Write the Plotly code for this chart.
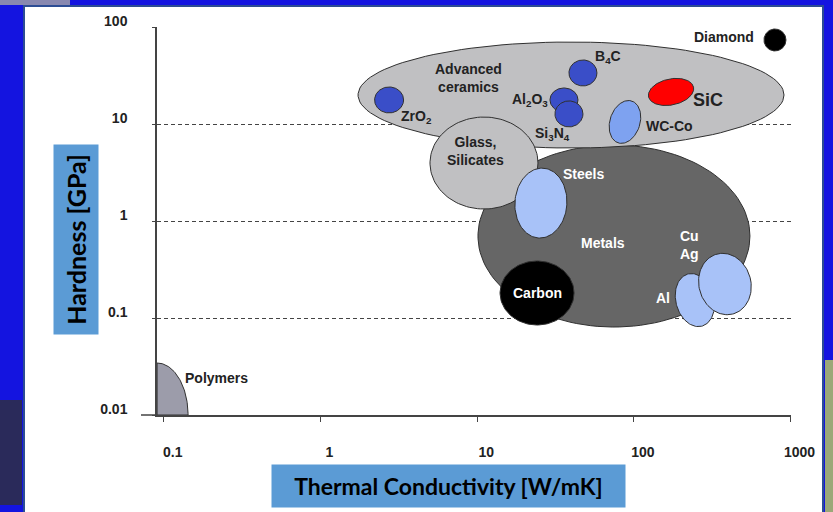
import numpy as np
import plotly.graph_objects as go

# ---------------- data ----------------
materials = ["Metals", "Advanced ceramics", "Glass, Silicates", "Steels", "Carbon",
             "Al", "Cu, Ag", "Al2O3", "Si3N4", "B4C", "ZrO2", "WC-Co", "SiC",
             "Diamond", "Polymers"]
conductivity = [74.6, 39.7, 11.05, 25.5, 24.1, 245, 381, 35.8, 38.5, 47.3, 2.74,
                87.7, 172.6, 795, 0.0906]           # W/mK (region centre)
hardness = [0.70, 19.9, 3.96, 1.53, 0.181, 0.153, 0.224, 17.7, 12.7, 33.6, 17.7,
            10.5, 21.4, 73.5, 0.01]                 # GPa (region centre)

x_ticks = [0.1, 1, 10, 100, 1000]
x_tick_labels = ["0.1", "1", "10", "100", "1000"]
y_ticks = [0.01, 0.1, 1, 10, 100]
y_tick_labels = ["0.01", "0.1", "1", "10", "100"]

# ---------------- styles ----------------
LIGHT_BLUE = "#a8c2f8"
DARK_BLUE = "#3a4ec8"
# semi-axes (px), rotation (deg, clockwise), fill colour
semi_x = [136, 213, 54, 26, 37, 19, 26, 14, 14, 14, 14.5, 15, 23, 11, 31]
semi_y = [91, 53, 46, 35, 32, 27, 31, 12, 13, 13, 13, 22, 13, 11, 52]
angle = [0, 0, 0, 4, 0, -15, -15, 0, 0, 0, 0, 18, -12, 0, 0]
fills = ["#666666", "#c0c0c2", "#c0c0c2", LIGHT_BLUE, "#000000", LIGHT_BLUE,
         LIGHT_BLUE, DARK_BLUE, DARK_BLUE, DARK_BLUE, DARK_BLUE, "#7ea2f0",
         "#ff0000", "#000000", "#9c9caa"]
labels = ["Metals", "Advanced<br>ceramics", "Glass,<br>Silicates", "Steels", "Carbon",
          "Al", "Cu<br>Ag", "Al<sub>2</sub>O<sub>3</sub>", "Si<sub>3</sub>N<sub>4</sub>",
          "B<sub>4</sub>C", "ZrO<sub>2</sub>", "WC-Co", "SiC", "Diamond", "Polymers"]
label_dx = [-11, -103, -8, 43, 0, -32, -35, -34, -16, 25, 27, 45, 37, -51, 59]
label_dy = [-7, 17, 12, 29, 0, 2, 39, 0, -20, 16, -17, -4, -8, 3, 37]
label_col = ["white", "#222", "#222", "white", "white", "white", "white", "#222",
             "#222", "#222", "#222", "#222", "#222", "#222", "#222"]
label_size = [14, 14, 14, 14, 14, 14, 14, 14, 14, 14, 14, 14, 18, 14, 14]

# ---------------- geometry of the plot ----------------
W, H = 833, 512
L, R, T, B = 157, 42, 27, 97
XR = [-1.0434, 3.0026]
YR = [-2, 2]
PW, PH = W - L - R, H - T - B
SX = PW / (XR[1] - XR[0])
SY = PH / (YR[1] - YR[0])


def px_x(px):
    return (px - L) / PW


def px_y(py):
    return (H - B - py) / PH


fig = go.Figure()

for i in range(len(materials)):
    if materials[i] == "Polymers":
        t = np.linspace(0, np.pi / 2, 60)
        dx = np.concatenate([[0], semi_x[i] * np.cos(t), [0]])
        dy = np.concatenate([[0], semi_y[i] * np.sin(t), [0]])
    else:
        t = np.linspace(0, 2 * np.pi, 120)
        dx = semi_x[i] * np.cos(t)
        dy = semi_y[i] * np.sin(t)
    th = np.radians(angle[i])
    rx = dx * np.cos(th) + dy * np.sin(th)
    ry = -dx * np.sin(th) + dy * np.cos(th)
    xs = 10 ** (np.log10(conductivity[i]) + rx / SX)
    ys = 10 ** (np.log10(hardness[i]) + ry / SY)
    fig.add_trace(go.Scatter(x=xs, y=ys, mode="lines", fill="toself",
                             fillcolor=fills[i], line=dict(color="#303030", width=1),
                             hoverinfo="skip", showlegend=False, name=materials[i]))

for i in range(len(materials)):
    fig.add_annotation(x=np.log10(conductivity[i]), y=np.log10(hardness[i]),
                       xref="x", yref="y", text=labels[i], showarrow=False,
                       xshift=label_dx[i], yshift=label_dy[i],
                       font=dict(family="Liberation Sans", size=label_size[i],
                                 color=label_col[i], weight="bold"))

# axis title boxes
fig.add_annotation(xref="paper", yref="paper", x=px_x(448), y=px_y(486),
                   xanchor="center", yanchor="middle", showarrow=False,
                   text="Thermal Conductivity [W/mK]", bgcolor="#5b9bd5",
                   width=351, height=40,
                   font=dict(family="Lato", size=23, color="black", weight="bold"))
fig.add_annotation(xref="paper", yref="paper", x=px_x(76), y=px_y(240),
                   xanchor="center", yanchor="middle", showarrow=False,
                   text="Hardness [GPa]", bgcolor="#5b9bd5", textangle=-90,
                   width=187, height=42,
                   font=dict(family="Lato", size=25, color="black", weight="bold"))

shapes = [
    # white slide panel
    dict(type="rect", xref="paper", yref="paper", x0=px_x(24), x1=px_x(823),
         y0=px_y(520), y1=px_y(6), fillcolor="white",
         line=dict(color="#2c4c94", width=2), layer="below"),
    # background details
    dict(type="rect", xref="paper", yref="paper", x0=px_x(0), x1=px_x(70),
         y0=px_y(5), y1=px_y(0), fillcolor="#8888b0", line=dict(width=0), layer="below"),
    dict(type="rect", xref="paper", yref="paper", x0=px_x(0), x1=px_x(22),
         y0=px_y(505), y1=px_y(400), fillcolor="#2a2a5a", line=dict(width=0), layer="below"),
    dict(type="rect", xref="paper", yref="paper", x0=px_x(825), x1=px_x(833),
         y0=px_y(512), y1=px_y(360), fillcolor="#9aa878", line=dict(width=0), layer="below"),
    # x axis extension to the left of the y axis
    dict(type="line", xref="paper", yref="paper", x0=px_x(141), x1=0, y0=0, y1=0,
         line=dict(color="#444", width=1.5)),
]
fig.update_layout(shapes=shapes)

tickfont = dict(family="Liberation Sans", size=14, color="#222", weight="bold")
fig.update_xaxes(type="log", range=XR, tickvals=x_ticks, ticktext=x_tick_labels,
                 showgrid=False, zeroline=False, showline=True, linecolor="#444",
                 linewidth=1.5, ticks="outside", ticklen=5, tickcolor="#444",
                 tickfont=tickfont, ticklabelstandoff=18, ticklabelshift=9)
fig.update_yaxes(type="log", range=YR, tickvals=y_ticks, ticktext=y_tick_labels,
                 showgrid=True, gridcolor="#444", griddash="4px,3px", gridwidth=1,
                 zeroline=False, showline=True, linecolor="#444", linewidth=1.5,
                 ticks="outside", ticklen=3, tickcolor="#444",
                 tickfont=tickfont, ticklabelstandoff=22, ticklabelshift=-6)

fig.update_layout(width=W, height=H, margin=dict(l=L, r=R, t=T, b=B),
                  paper_bgcolor="#1414e0", plot_bgcolor="white", showlegend=False)

fig.write_html("out.html", config={"displayModeBar": False},
               post_script="document.body.style.margin='0';"
                           "document.body.style.overflow='hidden';")
